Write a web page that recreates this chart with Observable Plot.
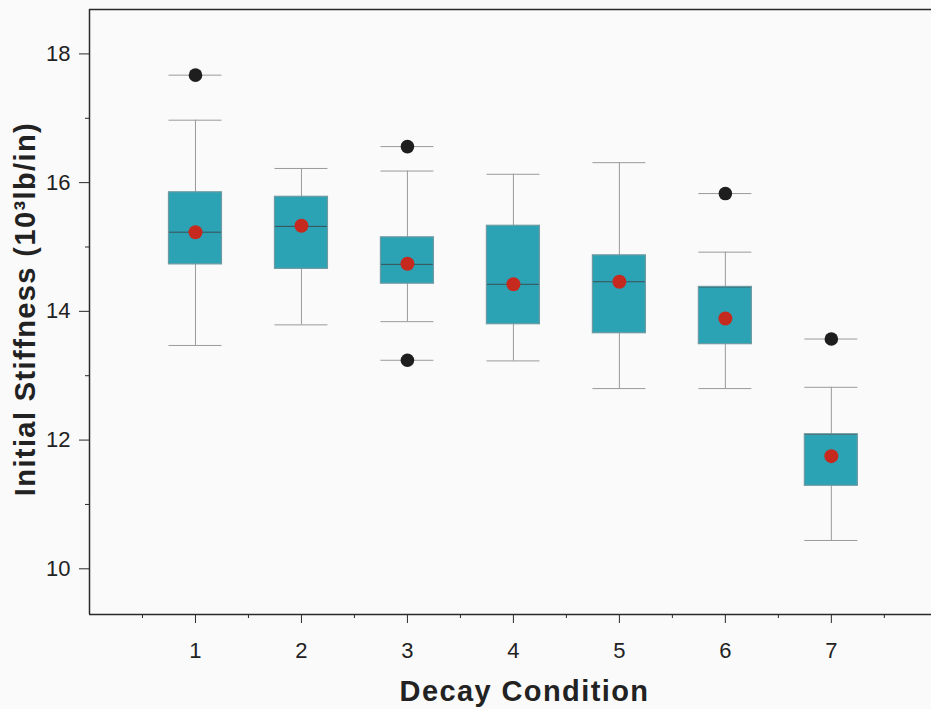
<!DOCTYPE html>
<html>
<head>
<meta charset="utf-8">
<script src="https://cdn.jsdelivr.net/npm/d3@7"></script>
<script src="https://cdn.jsdelivr.net/npm/@observablehq/plot@0.6"></script>
<style>
  html, body { margin: 0; padding: 0; background: #fafafa; overflow: hidden; }
  #chart svg { display: block; background: #fafafa; }
  #chart svg, #chart svg text { font-family: "Liberation Sans", Arial, Helvetica, sans-serif !important; }
</style>
</head>
<body>
<div id="chart"></div>
<script>
const conditions   = [1, 2, 3, 4, 5, 6, 7];
const lowerWhisker = [13.47, 13.79, 13.84, 13.23, 12.80, 12.80, 10.44];
const q1           = [14.73, 14.66, 14.43, 13.80, 13.66, 13.49, 11.29];
const median       = [15.23, 15.32, 14.73, 14.42, 14.46, 14.38, 12.09];
const q3           = [15.85, 15.78, 15.15, 15.33, 14.87, 14.38, 12.09];
const upperWhisker = [16.97, 16.22, 16.18, 16.13, 16.31, 14.92, 12.82];
const means        = [15.23, 15.33, 14.74, 14.42, 14.46, 13.89, 11.75];
const outlierCondition = [1, 3, 3, 6, 7];
const outlierValue     = [17.67, 16.56, 13.24, 15.83, 13.57];

const xMajorTicks = [1, 2, 3, 4, 5, 6, 7];
const xMinorTicks = [0.5, 1.5, 2.5, 3.5, 4.5, 5.5, 6.5, 7.5];
const yMajorTicks = [10, 12, 14, 16, 18];
const yMinorTicks = [11, 13, 15, 17];
const xDomain = [0, 7.945];
const yDomain = [9.29, 18.69];

const xTitle = "Decay Condition";
const yTitle = "Initial Stiffness (10³lb/in)";

const boxes = conditions.map((c, i) => ({
  c, lo: lowerWhisker[i], q1: q1[i], med: median[i], q3: q3[i], hi: upperWhisker[i], mean: means[i]
}));
const outliers = outlierCondition.map((c, i) => ({c, v: outlierValue[i]}));

const half = 0.25;
const axisColor = "#2a2a2a";

const chart = Plot.plot({
  width: 931,
  height: 709,
  marginLeft: 89,
  marginRight: 0,
  marginTop: 9,
  marginBottom: 95,
  style: {background: "#fafafa", color: "#222"},
  x: {domain: xDomain, label: null},
  y: {domain: yDomain, label: null},
  marks: [
    Plot.ruleX(boxes, {x: "c", y1: "lo", y2: "hi", stroke: "#9a9a9a", strokeWidth: 1}),
    Plot.ruleY(boxes, {y: "lo", x1: d => d.c - half, x2: d => d.c + half, stroke: "#9a9a9a", strokeWidth: 1}),
    Plot.ruleY(boxes, {y: "hi", x1: d => d.c - half, x2: d => d.c + half, stroke: "#9a9a9a", strokeWidth: 1}),
    Plot.rect(boxes, {x1: d => d.c - half, x2: d => d.c + half, y1: "q1", y2: "q3", fill: "#2ba3b4"}),
    Plot.ruleY(boxes, {y: "med", x1: d => d.c - half, x2: d => d.c + half, stroke: "#3d4f55", strokeWidth: 1}),
    Plot.rect(boxes, {x1: d => d.c - half, x2: d => d.c + half, y1: "q1", y2: "q3",
      fill: "none", stroke: "#6f9aa2", strokeWidth: 1.2}),
    Plot.ruleY(outliers, {y: "v", x1: d => d.c - half, x2: d => d.c + half, stroke: "#9a9a9a", strokeWidth: 1}),
    Plot.dot(outliers, {x: "c", y: "v", r: 6.8, fill: "#1e1e1e", stroke: "none"}),
    Plot.dot(boxes, {x: "c", y: "mean", r: 7, fill: "#c62a1f", stroke: "none"}),
    Plot.ruleX([xDomain[0]], {stroke: axisColor, strokeWidth: 1.5}),
    Plot.ruleY([yDomain[0]], {stroke: axisColor, strokeWidth: 1.5}),
    Plot.ruleY([yDomain[1]], {stroke: axisColor, strokeWidth: 1.5}),
    Plot.axisX({ticks: xMajorTicks, tickSize: 9, tickPadding: 19, fontSize: 22, stroke: axisColor, fill: "#222", label: null}),
    Plot.axisX({ticks: xMinorTicks, tickSize: 4, tickFormat: () => "", stroke: axisColor, label: null}),
    Plot.axisY({ticks: yMajorTicks, tickSize: 10, tickPadding: 9, fontSize: 22, stroke: axisColor, fill: "#222", label: null}),
    Plot.axisY({ticks: yMinorTicks, tickSize: 4, tickFormat: () => "", stroke: axisColor, label: null}),
    Plot.text([xTitle], {frameAnchor: "bottom", textAnchor: "middle", lineAnchor: "middle", dx: 14, dy: 77,
      fontSize: 29, fontWeight: "bold", fill: "#222", text: d => d}),
    Plot.text([yTitle], {frameAnchor: "left", textAnchor: "middle", lineAnchor: "middle", rotate: -90, dx: -64, dy: -3,
      fontSize: 29, fontWeight: "bold", fill: "#222", text: d => d})
  ]
});

chart.querySelectorAll("text").forEach(t => {
  if (t.parentNode.getAttribute("font-weight") === "bold" || t.getAttribute("font-weight") === "bold") {
    t.setAttribute("letter-spacing", "1.4");
  }
});
document.getElementById("chart").appendChild(chart);
</script>
</body>
</html>
